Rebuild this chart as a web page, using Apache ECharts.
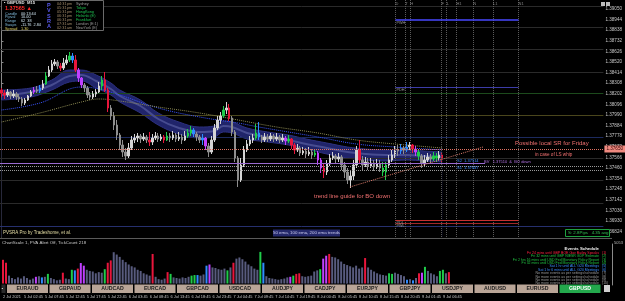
<!DOCTYPE html>
<html>
<head>
<meta charset="utf-8">
<script src="https://cdn.jsdelivr.net/npm/echarts@6/dist/echarts.min.js"></script>
<style>
html, body { margin: 0; padding: 0; background: #000; }
#chart { width: 625px; height: 301px; }
</style>
</head>
<body>
<div id="chart"></div>
<script>
// GBPUSD intraday with PVSRA candles, ema ribbon and volume pane

const firstOpen = 1.3824;
const closes = [
  1.3821,1.3819,1.3822,1.3818,1.3820,1.3817,1.3815,1.3811,1.3814,1.3818,
  1.3822,1.3824,1.3823,1.3826,1.3830,1.3838,1.3844,1.3850,1.3852,1.3848,
  1.3846,1.3851,1.3854,1.3858,1.3854,1.3844,1.3836,1.3829,1.3826,1.3819,
  1.3817,1.3820,1.3822,1.3828,1.3834,1.3824,1.3806,1.3798,1.3789,1.3779,
  1.3769,1.3762,1.3758,1.3766,1.3774,1.3776,1.3778,1.3775,1.3777,1.3774,
  1.3772,1.3776,1.3778,1.3775,1.3777,1.3774,1.3778,1.3776,1.3779,1.3775,
  1.3777,1.3774,1.3778,1.3781,1.3784,1.3780,1.3777,1.3774,1.3776,1.3768,
  1.3762,1.3774,1.3786,1.3794,1.3798,1.3804,1.3806,1.3796,1.3782,1.3756,
  1.3734,1.3749,1.3764,1.3770,1.3774,1.3776,1.3781,1.3777,1.3774,1.3777,
  1.3775,1.3778,1.3775,1.3777,1.3774,1.3776,1.3773,1.3775,1.3769,1.3764,
  1.3766,1.3761,1.3763,1.3760,1.3762,1.3759,1.3761,1.3754,1.3746,1.3742,
  1.3750,1.3756,1.3758,1.3755,1.3757,1.3749,1.3742,1.3734,1.3738,1.3749,
  1.3764,1.3754,1.3749,1.3752,1.3748,1.3751,1.3747,1.3750,1.3746,1.3742,
  1.3749,1.3754,1.3759,1.3764,1.3763,1.3766,1.3764,1.3767,1.3769,1.3765,
  1.3762,1.3758,1.3751,1.3754,1.3757,1.3755,1.3758,1.3756,1.3759,1.3756
];
const highs = [
  1.3826,1.3824,1.3825,1.3823,1.3824,1.3822,1.3820,1.3817,1.3816,1.3819,
  1.3824,1.3827,1.3828,1.3829,1.3834,1.3842,1.3848,1.3854,1.3855,1.3854,
  1.3851,1.3856,1.3859,1.3862,1.3861,1.3859,1.3846,1.3837,1.3831,1.3828,
  1.3822,1.3823,1.3825,1.3832,1.3838,1.3842,1.3826,1.3809,1.3802,1.3794,
  1.3781,1.3774,1.3766,1.3771,1.3778,1.3780,1.3781,1.3780,1.3781,1.3779,
  1.3782,1.3780,1.3782,1.3781,1.3780,1.3779,1.3782,1.3781,1.3783,1.3781,
  1.3782,1.3780,1.3783,1.3785,1.3788,1.3786,1.3782,1.3779,1.3780,1.3777,
  1.3771,1.3778,1.3790,1.3798,1.3802,1.3808,1.3812,1.3810,1.3798,1.3784,
  1.3758,1.3756,1.3768,1.3774,1.3778,1.3780,1.3790,1.3792,1.3779,1.3781,
  1.3780,1.3781,1.3780,1.3781,1.3779,1.3780,1.3778,1.3779,1.3776,1.3771,
  1.3770,1.3768,1.3767,1.3766,1.3767,1.3765,1.3765,1.3763,1.3756,1.3750,
  1.3754,1.3760,1.3762,1.3760,1.3761,1.3759,1.3752,1.3746,1.3744,1.3754,
  1.3768,1.3774,1.3758,1.3757,1.3756,1.3756,1.3754,1.3755,1.3754,1.3752,
  1.3752,1.3759,1.3764,1.3768,1.3769,1.3770,1.3768,1.3772,1.3772,1.3770,
  1.3768,1.3764,1.3760,1.3759,1.3761,1.3760,1.3762,1.3761,1.3763,1.3761
];
const lows = [
  1.3817,1.3815,1.3817,1.3815,1.3816,1.3814,1.3812,1.3808,1.3809,1.3813,
  1.3817,1.3820,1.3821,1.3821,1.3824,1.3829,1.3837,1.3842,1.3848,1.3845,
  1.3843,1.3844,1.3849,1.3852,1.3851,1.3842,1.3832,1.3826,1.3822,1.3816,
  1.3814,1.3815,1.3817,1.3821,1.3824,1.3822,1.3802,1.3794,1.3784,1.3774,
  1.3764,1.3757,1.3754,1.3756,1.3764,1.3771,1.3772,1.3771,1.3773,1.3771,
  1.3768,1.3769,1.3774,1.3772,1.3773,1.3771,1.3773,1.3772,1.3774,1.3772,
  1.3773,1.3770,1.3773,1.3776,1.3778,1.3777,1.3773,1.3771,1.3769,1.3764,
  1.3757,1.3760,1.3772,1.3784,1.3790,1.3796,1.3800,1.3793,1.3778,1.3752,
  1.3727,1.3732,1.3747,1.3762,1.3768,1.3771,1.3774,1.3774,1.3771,1.3772,
  1.3772,1.3773,1.3772,1.3773,1.3771,1.3772,1.3769,1.3771,1.3765,1.3760,
  1.3762,1.3758,1.3759,1.3756,1.3758,1.3755,1.3757,1.3749,1.3741,1.3736,
  1.3739,1.3748,1.3754,1.3751,1.3752,1.3744,1.3736,1.3730,1.3726,1.3734,
  1.3746,1.3750,1.3744,1.3747,1.3744,1.3746,1.3743,1.3745,1.3742,1.3738,
  1.3734,1.3746,1.3752,1.3756,1.3758,1.3760,1.3760,1.3762,1.3764,1.3761,
  1.3758,1.3754,1.3746,1.3748,1.3752,1.3751,1.3753,1.3752,1.3754,1.3752
];
// pvsra volume class per bar: n normal, r red, g green, b blue, m magenta
const barTypes = (
  'rrnnnnnnnn' + 'nmnbngnnnn' + 'rnngbrmmnn' + 'nnnngrrnnn' + 'nnnnnnnnnn' +
  'rnnnnrgnnn' + 'nnnggbnnbm' + 'nnnnngnrnn' + 'nnnnnngbnn' + 'nnnnnnmgrr' +
  'nnnnnngmmr' + 'nnnnnnnnnn' + 'nrnnnnnnng' + 'gnnnnbnbnr' + 'mgnnnnggnr'
).split('');
const volumes = [
  430,380,160,120,100,130,110,150,120,90,
  110,140,150,130,140,190,120,100,80,90,
  210,110,100,260,250,280,375,330,260,240,
  230,200,220,210,270,380,420,560,520,480,
  430,390,350,320,300,260,240,200,180,160,
  530,140,100,90,110,220,190,130,120,110,
  130,120,140,160,170,170,160,180,330,350,
  300,290,270,260,280,250,300,380,450,470,
  440,400,350,320,280,260,565,380,150,120,
  110,100,90,100,110,130,140,160,190,200,
  150,140,150,160,230,250,270,450,500,530,
  480,470,440,400,360,340,320,300,330,280,
  300,460,300,260,230,200,180,170,160,200,
  190,210,190,170,150,90,100,80,120,200,
  210,310,240,200,180,150,240,260,200,220
];
const totalSlots = 204;
const timeLabels = [
  '2 Jul 2021','5 Jul 02:45','5 Jul 07:45','5 Jul 12:45','5 Jul 17:45','5 Jul 22:45',
  '6 Jul 03:45','6 Jul 08:45','6 Jul 13:45','6 Jul 18:45','6 Jul 23:45','7 Jul 04:45',
  '7 Jul 09:45','7 Jul 14:45','7 Jul 19:45','8 Jul 00:45','8 Jul 05:45','8 Jul 10:45',
  '8 Jul 15:45','8 Jul 20:45','9 Jul 01:45','9 Jul 06:45'
];
const labelEvery = 7;
const priceTicks = [
  1.39050,1.38944,1.38838,1.38732,1.38626,1.38520,1.38414,1.38308,1.38202,1.38096,1.37990,
  1.37884,1.37778,1.37672,1.37566,1.37460,1.37354,1.37248,1.37142,1.37036,1.36930,1.36824
];

// ema ribbon (50) and the 100 / 200 ema, read at a few bars
const bandIdx = [0,10,17,23,27,32,37,40,47,53,60,67,72,75,78,83,90,97,103,110,117,123,130,137,143,149];
const bandUpper = [1.3824,1.3826,1.3834,1.3844,1.3844,1.3839,1.3831,1.3824,1.3814,1.3801,1.3792,1.3787,1.3788,1.3793,1.3792,1.3786,1.3782,1.3779,1.3775,1.3771,1.3767,1.3765,1.3764,1.3764,1.3763,1.3762];
const bandLower = [1.3814,1.3817,1.3824,1.3832,1.3833,1.3826,1.3819,1.3812,1.3801,1.3789,1.3780,1.3776,1.3777,1.3782,1.3781,1.3775,1.3772,1.3769,1.3765,1.3760,1.3756,1.3754,1.3753,1.3754,1.3753,1.3752];
const bandMid = [1.3819,1.3822,1.3829,1.3838,1.3839,1.3833,1.3825,1.3818,1.3808,1.3795,1.3786,1.3782,1.3783,1.3788,1.3787,1.3781,1.3777,1.3774,1.3770,1.3766,1.3762,1.3760,1.3759,1.3759,1.3758,1.3757];
const ema100Idx = [0,13,27,33,40,53,67,80,87,107,120,133,149];
const ema100 = [1.3804,1.3811,1.3827,1.3825,1.3819,1.3806,1.3797,1.3791,1.3787,1.3777,1.3770,1.3767,1.3764];
const ema200Idx = [0,13,27,33,40,53,67,80,93,107,120,133,149];
const ema200 = [1.3792,1.3801,1.3812,1.3815,1.3813,1.3807,1.3801,1.3794,1.3787,1.3781,1.3774,1.3770,1.3766];

// drawn objects
const gridLevels = [1.3908,1.3887,1.3865,1.3842,1.3821,1.3799,1.3777,1.3756,1.3734,1.3711,1.3688];
const srLevel = 1.3765;
const breakLevel = 1.3751;
const breakEnd = 163.5;
const dottedLevels = [1.3748, 1.3744];
const trendLine = [[117.8, 1.3727], [162.8, 1.3767]];
const pivotLevels = [1.3894, 1.3827, 1.3694, 1.3691];
const pivotNames = ['PWH', 'PDH', 'PDL', 'PWL'];
const pivotSpan = [133.2, 174.8];
const sessionIdx = [133.2,136.5,138.2,148.8,150.5,153.8,159.5,166.2,174.8];
const sessionNames = ['D','T','H','F','L','H1','N','L1','N1'];

// panels
const pairButtons = ['EURAUD','GBPAUD','AUDCAD','EURCAD','GBPCAD','USDCAD','AUDJPY','CADJPY','EURJPY','GBPJPY','USDJPY','AUDUSD','EURUSD','GBPUSD'];
const infoRows = [['Candle','00:13:44'],['Pipval','10.00'],['Range','62  38'],['Swaps','-11.76  2.84'],['Spread','1.30']];
const sessions = [['04:31','pm','Sydney'],['05:31','pm','Tokyo'],['05:31','pm','HongKong'],['06:31','pm','Helsinki (E)'],['06:31','pm','Frankfurt'],['07:31','am','London (E:1)'],['02:31','am','NewYork (E)']];
const eventLines = [
  'Fri 24 mins until GBP BOE Gov Bailey Speaks',
  'Fri 32 mins until GBP NIESR GDP Estimate',
  'Fri 2 hrs 16 mins until USD Fed Monetary Policy Report',
  'Fri 32 mins until USD Fed Monetary Policy Report',
  'Sat 1 hr until ALL G20 Meetings',
  'Sat 1 hr 6 mins until ALL G20 Meetings',
  'No more events as per settings/schedule',
  'No more events as per settings/schedule',
  'No more events as per settings/schedule',
  'No more events as per settings/schedule'
];

const FONT = 'Liberation Sans';
const X0 = -0.5, X1 = totalSlots - 0.5;
const typeColors = { r: '#e8163c', g: '#1fcc4a', b: '#2f8cff', m: '#c040ff' };
const levelColors = ['#2a2a2a','#2a2a2a','#2a2a2a','#2a2a2a','#1c4a1c','#4a461c','#1c2a5e','#2a2a2a','#2a2a2a','#2a2a2a','#26306e'];
const sessionColors = ['#9a9a9a','#1ec050','#1ec050','#1ec050','#1ec050','#9a9a9a','#9a9a9a'];
const eventColors = ['#ff2040','#20c040','#20c040','#20c040','#3a8cff','#3a8cff','#9a9a9a','#9a9a9a','#9a9a9a','#9a9a9a'];

const slots = [];
for (let i = 0; i < totalSlots; i++) slots.push(String(i));

const candleData = closes.map((c, i) => {
  const o = i === 0 ? firstOpen : closes[i - 1];
  const t = barTypes[i];
  const col = t === 'n' ? (c >= o ? '#d4d4d4' : '#8e8e8e') : typeColors[t];
  return {
    value: [o, c, lows[i], highs[i]],
    itemStyle: { color: col, color0: col, borderColor: col, borderColor0: col }
  };
});
const volData = volumes.map((v, i) => ({
  value: v,
  itemStyle: { color: barTypes[i] === 'n' ? '#585b7e' : typeColors[barTypes[i]] }
}));

const pts = (idx, vals) => idx.map((x, i) => [x, vals[i]]);
// full-width horizontal line as a coord pair
const hline = (p, style, label) => [
  Object.assign({ coord: [X0, p], lineStyle: style }, label ? { label: label } : {}),
  { coord: [X1, p] }
];

function txt(x, y, text, size, color, extra) {
  return {
    type: 'text', x: x, y: y, z: 100,
    style: Object.assign({ text: text, fontSize: size, fill: color, fontFamily: FONT }, extra || {})
  };
}

const graphics = [];
// info box
graphics.push({ type: 'rect', z: 99, shape: { x: 1.5, y: 0.5, width: 102, height: 30 }, style: { fill: '#000', stroke: '#6a6a6a', lineWidth: 1 } });
graphics.push(txt(4, 1.2, '\u25aa GBPUSD  M15', 4.2, '#e0e0e0', { fontWeight: 'bold' }));
graphics.push(txt(5, 5.5, '1.37565 \u25b2', 5.5, '#ff2a2a', { fontWeight: 'bold' }));
infoRows.forEach((r, k) => {
  const col = r[0] === 'Spread' ? '#e0d060' : '#7fb8d8';
  graphics.push(txt(5, 11.5 + k * 3.8, r[0], 3.8, col));
  graphics.push(txt(21, 11.5 + k * 3.8, r[1], 3.8, r[0] === 'Spread' ? col : '#cfe4f0'));
});
'PVSRA'.split('').forEach((ch, k) => {
  graphics.push(txt(47, 2.5 + k * 5.3, ch, 5.5, '#5a5af0', { fontWeight: 'bold' }));
});
sessions.forEach((s, k) => {
  graphics.push(txt(57, 1.5 + k * 4, s[0], 3.8, '#a08868'));
  graphics.push(txt(67, 1.5 + k * 4, s[1], 3.8, '#a08868'));
  graphics.push(txt(76, 1.5 + k * 4, s[2], 3.8, sessionColors[k]));
});
// top right icons
graphics.push({ type: 'rect', z: 100, shape: { x: 601, y: 2, width: 4, height: 4 }, style: { fill: '#bdbdbd' } });
graphics.push({ type: 'rect', z: 100, shape: { x: 606, y: 2, width: 4, height: 4 }, style: { fill: '#bdbdbd' } });
// annotations
graphics.push(txt(515, 140, 'Possible local SR for Friday', 6, '#f07070'));
graphics.push(txt(535, 152, 'in case of LS whip', 4.6, '#f07070'));
graphics.push(txt(314, 193, 'trend line guide for BO down', 6, '#f07070'));
graphics.push(txt(484, 159.5, 'BV   1.37510  &  BO down', 4, '#b070e0'));
graphics.push(txt(457, 158.5, 'S2  1.37514', 4, '#3a8cff'));
graphics.push(txt(457, 165.5, 'S1  1.37447', 4, '#3a8cff'));
// bottom of main pane
graphics.push(txt(3, 230, 'PVSRA Pro by Tradeshome, et al.', 4.5, '#e6dfa6'));
graphics.push({ type: 'rect', z: 99, shape: { x: 273, y: 229.5, width: 67, height: 7 }, style: { fill: '#24286a' } });
graphics.push(txt(306.5, 230.8, '50 ema, 100 ema, 200 ema trends', 4.4, '#c8c8ec', { align: 'center' }));
graphics.push({ type: 'rect', z: 99, shape: { x: 565.5, y: 229.5, width: 44, height: 7 }, style: { fill: '#000', stroke: '#1fa040', lineWidth: 1 } });
graphics.push(txt(568, 230.8, 'S: 2.8Pips   4.35 avg', 4.4, '#30c050'));
// pane separator
graphics.push({ type: 'line', z: 98, shape: { x1: 0, y1: 238.5, x2: 612, y2: 238.5 }, style: { stroke: '#5a5a5a', lineWidth: 1 } });
graphics.push(txt(2, 240.5, 'ChartScale 1, PVA Alert Off, TickCount 218', 4.4, '#c8c8c8'));
graphics.push(txt(614, 240.5, '5053', 4, '#bdbdbd'));
// events schedule
graphics.push(txt(599, 246.5, 'Events Schedule', 4.3, '#f0f0f0', { align: 'right', fontWeight: 'bold' }));
eventLines.forEach((e, k) => {
  graphics.push(txt(599, 250.8 + k * 3.4, e, 3.5, eventColors[k], { align: 'right' }));
  graphics.push(txt(602, 250.8 + k * 3.4, '(' + (k + 1) + ')', 3.5, eventColors[k]));
});
// symbol buttons
graphics.push({ type: 'rect', z: 99, shape: { x: 1, y: 284, width: 5, height: 9.5 }, style: { fill: '#2a2a2a', stroke: '#000' } });
graphics.push(txt(1.8, 286.5, '\u25aa', 4, '#e0e0e0'));
pairButtons.forEach((p, k) => {
  const sel = p === 'GBPUSD';
  const bx = 6.5 + k * 42.5;
  graphics.push({ type: 'rect', z: 99, shape: { x: bx, y: 284, width: 42, height: 9.5 }, style: { fill: sel ? '#23a84c' : '#b9a597', stroke: '#000', lineWidth: 1 } });
  graphics.push(txt(bx + 21, 286.3, p, 5.2, sel ? '#ffffff' : '#1c1c1c', { align: 'center', fontWeight: 'bold' }));
});
graphics.push({ type: 'rect', z: 99, shape: { x: 604, y: 285, width: 6, height: 7 }, style: { fill: '#d0d0d0' } });

const lastClose = closes[closes.length - 1];

const chart = echarts.init(document.getElementById('chart'), null, { renderer: 'canvas' });
chart.setOption({
  backgroundColor: '#000',
  animation: false,
  textStyle: { fontFamily: FONT },
  grid: [
    { left: 0, top: 0, width: 612, height: 237 },
    { left: 0, top: 244, width: 612, height: 41 }
  ],
  xAxis: [
    { type: 'category', gridIndex: 0, data: slots, boundaryGap: true, show: false },
    { type: 'value', gridIndex: 0, min: X0, max: X1, show: false },
    {
      type: 'category', gridIndex: 1, data: slots, boundaryGap: true,
      axisLine: { show: false }, axisTick: { show: false },
      axisLabel: {
        interval: idx => idx % labelEvery === 0 && idx / labelEvery < timeLabels.length,
        formatter: (v, idx) => timeLabels[Math.round(idx / labelEvery)] || '',
        color: '#c8c8c8', fontSize: 3.9, margin: 10, align: 'left'
      }
    }
  ],
  yAxis: [
    {
      type: 'value', gridIndex: 0, position: 'right', min: 1.3677, max: 1.3914,
      axisLine: { show: true, lineStyle: { color: '#8a8a8a' } },
      axisTick: { show: true, length: 2, customValues: priceTicks, lineStyle: { color: '#8a8a8a' } },
      axisLabel: { customValues: priceTicks, formatter: v => v.toFixed(5), color: '#c8c8c8', fontSize: 4.6, margin: 2 },
      splitLine: { show: false }
    },
    {
      type: 'value', gridIndex: 1, position: 'right', min: 0, max: 700,
      axisLine: { show: true, lineStyle: { color: '#8a8a8a' } },
      axisTick: { show: false }, axisLabel: { show: false }, splitLine: { show: false }
    }
  ],
  graphic: graphics,
  series: [
    // ribbon: navy area down from the upper edge, black area down from the lower edge
    {
      type: 'line', xAxisIndex: 1, yAxisIndex: 0, smooth: 0.4, symbol: 'none', z: 1,
      data: pts(bandIdx, bandUpper),
      lineStyle: { color: '#2c307e', width: 1 },
      areaStyle: { color: '#20246a', opacity: 1, origin: 'start' }
    },
    {
      type: 'line', xAxisIndex: 1, yAxisIndex: 0, smooth: 0.4, symbol: 'none', z: 1,
      data: pts(bandIdx, bandLower),
      lineStyle: { color: '#2c307e', width: 1 },
      areaStyle: { color: '#000', opacity: 1, origin: 'start' }
    },
    {
      type: 'line', xAxisIndex: 1, yAxisIndex: 0, smooth: 0.4, symbol: 'none', z: 2,
      data: pts(bandIdx, bandMid), lineStyle: { color: '#474c90', width: 2 },
      markLine: {
        z: 2, silent: true, symbol: ['none', 'none'], label: { show: false },
        data: gridLevels.map((p, k) => hline(p, { color: levelColors[k], type: 'solid', width: 1 }))
      }
    },
    {
      type: 'line', xAxisIndex: 1, yAxisIndex: 0, smooth: 0.4, symbol: 'none', z: 3,
      data: pts(ema100Idx, ema100), lineStyle: { color: '#3a55ff', width: 1, type: 'dotted' }
    },
    {
      type: 'line', xAxisIndex: 1, yAxisIndex: 0, smooth: 0.4, symbol: 'none', z: 3,
      data: pts(ema200Idx, ema200), lineStyle: { color: '#8c8a52', width: 1, type: 'dotted' }
    },
    {
      type: 'candlestick', xAxisIndex: 0, yAxisIndex: 0, data: candleData, barWidth: 2, z: 4
    },
    {
      type: 'line', xAxisIndex: 1, yAxisIndex: 0, data: [], z: 5,
      markLine: {
        z: 5, silent: true, symbol: ['none', 'none'], label: { show: false },
        data: [
          hline(srLevel, { color: '#e07060', type: 'dotted', width: 1 },
            { show: true, position: 'end', distance: 1, formatter: srLevel.toFixed(5), fontSize: 4.6, color: '#300', backgroundColor: '#f08a80', padding: [1, 2] }),
          hline(lastClose, { opacity: 0 },
            { show: true, position: 'end', distance: 1, formatter: lastClose.toFixed(5), fontSize: 4.6, color: '#000', backgroundColor: '#e8e8e8', padding: [1, 2] }),
          [{ coord: [X0, breakLevel], lineStyle: { color: '#9a6ad0', width: 1, type: 'solid' } }, { coord: [breakEnd, breakLevel] }],
          ...dottedLevels.map(p => hline(p, { color: '#9a9a9a', type: 'dotted', width: 1 })),
          [{ coord: trendLine[0], lineStyle: { color: '#d87a6a', type: 'dotted', width: 1 } }, { coord: trendLine[1] }],
          ...sessionIdx.map(x => [{ coord: [x, 1.3677], lineStyle: { color: '#5a5a5a', type: 'dotted', width: 1 } }, { coord: [x, 1.3914] }]),
          ...pivotLevels.map((p, k) => [
            { coord: [pivotSpan[0], p], lineStyle: { color: k === 0 ? '#4848ff' : k === 1 ? '#3c3ca8' : k === 2 ? '#c83030' : '#a02828', width: k === 0 ? 1.5 : 1, type: 'solid' },
              label: { show: true, position: 'insideStartBottom', formatter: pivotNames[k], fontSize: 3.8, color: '#9a9a9a', distance: 1 } },
            { coord: [pivotSpan[1], p] }
          ])
        ]
      }
    },
    {
      type: 'scatter', xAxisIndex: 1, yAxisIndex: 0, symbolSize: 0, z: 6, silent: true,
      data: sessionIdx.map((x, k) => [x, 1.3910, sessionNames[k]]),
      label: { show: true, position: 'right', distance: 0, formatter: p => p.value[2], fontSize: 4, color: '#a0a0a0' }
    },
    {
      type: 'bar', xAxisIndex: 2, yAxisIndex: 1, data: volData, barWidth: 2, z: 3
    }
  ]
});
</script>
</body>
</html>
